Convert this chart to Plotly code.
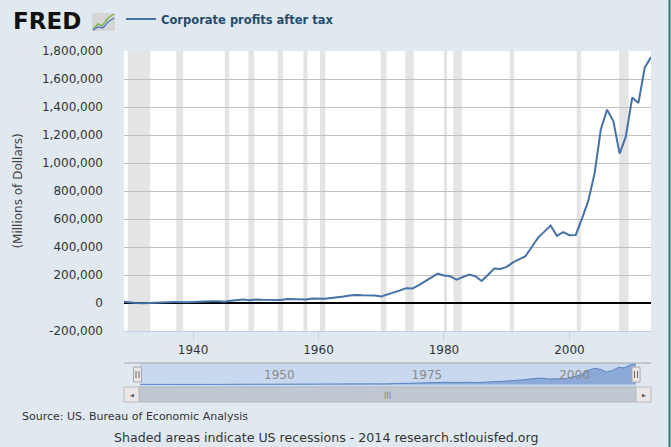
import plotly.graph_objects as go

# ---------------- data ----------------
years = list(range(1929, 2014))
profits = [
    9500, 3300, -800, -2600, 500, 2600, 3600, 5800, 6300, 3500,          # 1929-1938
    5900, 7600, 11000, 11900, 12800, 12300, 9700, 16400, 21300, 24500,   # 1939-1948
    19800, 25500, 23200, 21800, 21600, 21900, 29000, 28800, 28400, 24700,  # 1949-1958
    31800, 29500, 30700, 36000, 40000, 46000, 54000, 57500, 55000, 57000,  # 1959-1968
    54000, 46000, 59000, 72000, 90000, 106000, 104000, 127000, 155000, 182000,  # 1969-1978
    210000, 196000, 191000, 166000, 185000, 203000, 191000, 157000, 200000, 246000,  # 1979-1988
    243000, 258000, 290000, 312000, 335000, 400000, 467000, 510000, 553000, 480000,  # 1989-1998
    507000, 484000, 486000, 603000, 729000, 924000, 1239000, 1381000, 1300000, 1067000,  # 1999-2008
    1191000, 1467000, 1429000, 1681000, 1757000,  # 2009-2013
]
assert len(profits) == len(years)

series_name = "Corporate profits after tax"

# US recessions (NBER peak/trough, fractional years)
rec_start = [1929.58, 1937.33, 1945.08, 1948.83, 1953.50, 1957.58, 1960.25,
             1969.92, 1973.83, 1980.00, 1981.50, 1990.50, 2001.17, 2007.92]
rec_end = [1933.17, 1938.42, 1945.75, 1949.75, 1954.33, 1958.25, 1961.08,
           1970.83, 1975.17, 1980.50, 1982.83, 1991.17, 2001.83, 2009.42]

x_ticks = [1940, 1960, 1980, 2000]
nav_ticks = [1950, 1975, 2000]
y_ticks = [-200000, 0, 200000, 400000, 600000, 800000, 1000000,
           1200000, 1400000, 1600000, 1800000]
y_ticktext = [f"{v:,}" for v in y_ticks]

# ---------------- layout helpers ----------------
W, H = 671, 447
L, R, T, B = 124, 20, 51, 60


def fx(px):
    return (px - L) / (W - L - R)


def fy(py):
    return (H - B - py) / (H - T - B)


BG = "#E1E9F0"
FONT = "DejaVu Sans"

fig = go.Figure()

fig.add_trace(go.Scatter(
    x=years, y=profits, mode="lines", name=series_name,
    line=dict(color="#4572A7", width=2), xaxis="x", yaxis="y",
    hoverinfo="skip",
))
fig.add_trace(go.Scatter(
    x=years, y=profits, mode="lines", fill="tozeroy",
    fillcolor="#8CA9D7", line=dict(color="#5A84C2", width=1),
    xaxis="x2", yaxis="y2", showlegend=False, hoverinfo="skip",
))

shapes = []
for s, e in zip(rec_start, rec_end):
    shapes.append(dict(type="rect", xref="x", yref="y domain", x0=s, x1=e,
                       y0=0, y1=1, fillcolor="#E4E4E4", line=dict(width=0),
                       layer="below"))

# navigator interior
shapes.append(dict(type="rect", xref="x2 domain", yref="y2 domain", x0=0, x1=1,
                   y0=0, y1=1, fillcolor="#C8D8EE", line=dict(width=0),
                   layer="below"))
# navigator outline
shapes.append(dict(type="line", xref="paper", yref="paper", x0=fx(124), x1=fx(651),
                   y0=fy(363), y1=fy(363), line=dict(color="#A6A6A6", width=1)))
# handles
for hx in (137.5, 636):
    shapes.append(dict(type="rect", xref="paper", yref="paper",
                       x0=fx(hx - 4), x1=fx(hx + 4), y0=fy(382), y1=fy(367),
                       fillcolor="#EBE7E8", line=dict(color="#A8A8A8", width=1)))
    for dx in (-1.5, 1.5):
        shapes.append(dict(type="line", xref="paper", yref="paper",
                           x0=fx(hx + dx), x1=fx(hx + dx), y0=fy(378), y1=fy(371),
                           line=dict(color="#666666", width=1)))
# scrollbar
shapes.append(dict(type="rect", xref="paper", yref="paper", x0=fx(139), x1=fx(636),
                   y0=fy(402), y1=fy(387), fillcolor="#BFC8D1",
                   line=dict(color="#B0B8C2", width=1)))
for bx0, bx1 in ((124, 139), (636, 651)):
    shapes.append(dict(type="rect", xref="paper", yref="paper", x0=fx(bx0), x1=fx(bx1),
                       y0=fy(402), y1=fy(387), fillcolor="#EBE7E8",
                       line=dict(color="#BBBBBB", width=1)))
# window border on the right
shapes.append(dict(type="line", xref="paper", yref="paper", x0=fx(669.5), x1=fx(669.5),
                   y0=fy(447), y1=fy(0), line=dict(color="#2B7C70", width=2)))
# FRED logo icon
shapes.append(dict(type="rect", xref="paper", yref="paper", x0=fx(92), x1=fx(115),
                   y0=fy(31), y1=fy(13), fillcolor="#D6D6D6", line=dict(width=0)))


def path(points):
    return "M " + " L ".join(f"{fx(a)},{fy(b)}" for a, b in points)


shapes.append(dict(type="path", xref="paper", yref="paper",
                   path=path([(93, 29), (98, 24), (102, 26), (108, 18), (114, 14)]),
                   line=dict(color="#7AB648", width=1.5)))
shapes.append(dict(type="path", xref="paper", yref="paper",
                   path=path([(93, 30), (98, 27), (103, 28), (108, 22), (114, 18)]),
                   line=dict(color="#5B7FBF", width=1.5)))

annotations = [
    dict(text="<b>FRED</b>", xref="paper", yref="paper", x=fx(11), y=fy(21),
         xanchor="left", yanchor="middle", showarrow=False,
         font=dict(family=FONT, size=23, color="#111111")),
    dict(text="Source: US. Bureau of Economic Analysis", xref="paper", yref="paper",
         x=fx(20), y=fy(417), xanchor="left", yanchor="middle", showarrow=False,
         font=dict(family=FONT, size=11, color="#333333")),
    dict(text="Shaded areas indicate US recessions - 2014 research.stlouisfed.org",
         xref="paper", yref="paper", x=fx(325.5), y=fy(437), xanchor="center",
         yanchor="middle", showarrow=False,
         font=dict(family=FONT, size=12.6, color="#333333")),
    dict(text="|||", xref="paper", yref="paper", x=fx(387.5), y=fy(394.5),
         xanchor="center", yanchor="middle", showarrow=False,
         font=dict(family=FONT, size=7, color="#666666")),
    dict(text="◀", xref="paper", yref="paper", x=fx(131.5), y=fy(394.5),
         xanchor="center", yanchor="middle", showarrow=False,
         font=dict(family=FONT, size=5, color="#555555")),
    dict(text="▶", xref="paper", yref="paper", x=fx(643.5), y=fy(394.5),
         xanchor="center", yanchor="middle", showarrow=False,
         font=dict(family=FONT, size=5, color="#555555")),
]

main_bottom = fy(331)
nav_top = fy(363)

fig.update_layout(
    width=W, height=H,
    margin=dict(l=L, r=R, t=T, b=B, pad=0, autoexpand=False),
    paper_bgcolor=BG, plot_bgcolor="white",
    font=dict(family=FONT, size=12, color="#333333"),
    showlegend=True,
    legend=dict(orientation="h", x=fx(121), y=fy(19), xanchor="left", yanchor="middle",
                bgcolor="rgba(0,0,0,0)",
                font=dict(family=FONT, size=11.5, color="#274B6D", weight="bold")),
    xaxis=dict(domain=[0, 1], anchor="y", range=[1929, 2013], tickvals=x_ticks,
               ticks="outside", ticklen=8, tickcolor="#C0D0E0", showline=True,
               linecolor="#C0D0E0", linewidth=1, showgrid=False, zeroline=False,
               automargin=False, tickfont=dict(size=12, color="#333333")),
    yaxis=dict(domain=[main_bottom, 1], anchor="x", range=[-200000, 1800000],
               tickvals=y_ticks, ticktext=y_ticktext, showgrid=True,
               gridcolor="#C0C0C0", gridwidth=1, zeroline=True, zerolinecolor="black",
               zerolinewidth=2, showline=False, ticks="", ticklabelstandoff=20,
               automargin=False, tickfont=dict(size=12, color="#333333"),
               title=dict(text="(Millions of Dollars)", standoff=16,
                          font=dict(size=12, color="#444444"))),
    xaxis2=dict(domain=[fx(140), fx(636)], anchor="y2", range=[1929, 2013],
                tickvals=nav_ticks, ticklabelposition="inside right", ticks="",
                showgrid=False, zeroline=False, showline=False, automargin=False,
                tickfont=dict(size=12, color="#8A8A8A")),
    yaxis2=dict(domain=[0, nav_top], anchor="x2", range=[-214000, 1843000],
                visible=False),
    shapes=shapes,
    annotations=annotations,
)

fig.write_html("out.html", config={"displayModeBar": False},
               post_script="document.body.style.margin='0px';")
